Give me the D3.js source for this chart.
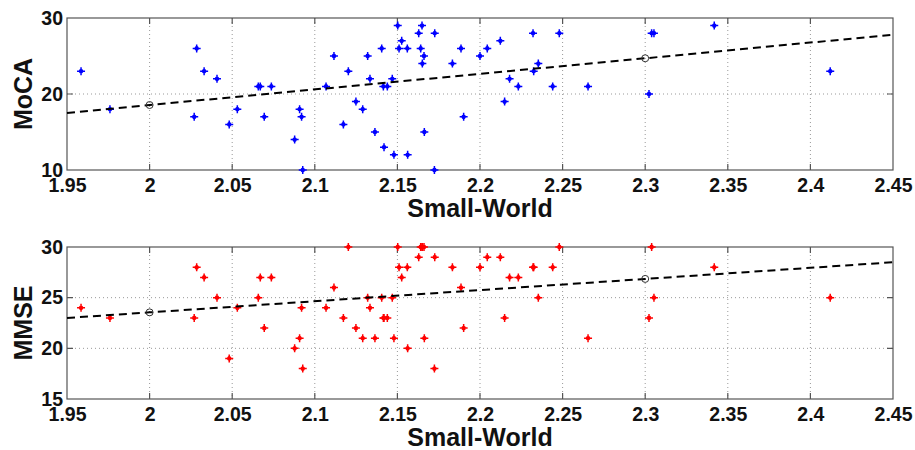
<!DOCTYPE html>
<html>
<head>
<meta charset="utf-8">
<script src="https://cdn.jsdelivr.net/npm/d3@7"></script>
<style>
  body { margin: 0; background: #fff; }
  svg text { font-family: "Liberation Sans", Arial, sans-serif; font-weight: bold; fill: #111; }
</style>
</head>
<body>
<div id="chart"></div>
<script>
// Data
const smallWorld = [1.9585, 1.976, 2.027, 2.0285, 2.033, 2.0408, 2.0482, 2.0531, 2.0658, 2.067,
    2.0694, 2.0737, 2.0878, 2.0908, 2.092, 2.0927, 2.1068, 2.1116, 2.1173, 2.1203,
    2.1249, 2.129, 2.132, 2.1334, 2.1364, 2.1405, 2.1415, 2.1419, 2.1439, 2.1469,
    2.1479, 2.1502, 2.151, 2.1526, 2.156, 2.1562, 2.1629, 2.1641, 2.1649, 2.1651,
    2.1661, 2.1663, 2.1724, 2.1726, 2.1833, 2.1885, 2.1901, 2.2, 2.2044, 2.2123,
    2.2149, 2.2179, 2.2232, 2.2321, 2.2325, 2.2353, 2.244, 2.248, 2.2654, 2.3023,
    2.3039, 2.3053, 2.3418, 2.412];
const moca = [23, 18, 17, 26, 23, 22, 16, 18, 21, 21,
    17, 21, 14, 18, 17, 10, 21, 25, 16, 23,
    19, 18, 25, 22, 15, 26, 21, 13, 21, 22,
    12, 29, 26, 27, 26, 12, 28, 26, 29, 24,
    25, 15, 10, 28, 24, 26, 17, 25, 26, 27,
    19, 22, 21, 28, 23, 24, 21, 28, 21, 20,
    28, 28, 29, 23];
const mmse = [24, 23, 23, 28, 27, 25, 19, 24, 25, 27,
    22, 27, 20, 21, 24, 18, 24, 26, 23, 30,
    22, 21, 25, 24, 21, 25, 23, 23, 23, 25,
    21, 30, 28, 27, 28, 20, 29, 30, 30, 30,
    30, 21, 18, 29, 28, 26, 22, 28, 29, 29,
    23, 27, 27, 28, 28, 25, 28, 30, 21, 23,
    30, 25, 28, 25];

// Linear fit, sampled at these x values (circles drawn at 2 and 2.3)
const fitX = [1.95, 2, 2.3, 2.45];
const mocaFit = [17.5, 18.55, 24.7, 27.8];
const mmseFit = [23.0, 23.55, 26.85, 28.5];
const fitMarks = [1, 2];

const xTicks = [1.95, 2, 2.05, 2.1, 2.15, 2.2, 2.25, 2.3, 2.35, 2.4, 2.45];
const mocaTicks = [10, 20, 30];
const mmseTicks = [15, 20, 25, 30];

const width = 915, height = 450;
const svg = d3.select('#chart').append('svg')
    .attr('width', width)
    .attr('height', height);

const x = d3.scaleLinear().domain([1.95, 2.45]).range([67, 893]);

const panels = [
    { label: 'MoCA', values: moca, fit: mocaFit, color: '#0000ff',
      domain: [10, 30], ticks: mocaTicks, top: 18, bottom: 170 },
    { label: 'MMSE', values: mmse, fit: mmseFit, color: '#ff0000',
      domain: [15, 30], ticks: mmseTicks, top: 247, bottom: 399 }
];

// asterisk marker: long plus arms, short diagonals
const star = 'M-4,0H4M0,-4V4M-1.6,-1.6L1.6,1.6M-1.6,1.6L1.6,-1.6';

panels.forEach(p => {
    const y = d3.scaleLinear().domain(p.domain).range([p.bottom, p.top]);
    const g = svg.append('g');

    // grid
    g.append('g')
        .selectAll('line')
        .data(xTicks.slice(1, -1))
        .join('line')
        .attr('x1', d => x(d)).attr('x2', d => x(d))
        .attr('y1', p.top).attr('y2', p.bottom)
        .attr('stroke', '#999').attr('stroke-dasharray', '1,3');
    g.append('g')
        .selectAll('line')
        .data(p.ticks.slice(1, -1))
        .join('line')
        .attr('x1', x.range()[0]).attr('x2', x.range()[1])
        .attr('y1', d => y(d)).attr('y2', d => y(d))
        .attr('stroke', '#999').attr('stroke-dasharray', '1,3');

    // axes (inward ticks on all sides)
    const bottomAxis = d3.axisBottom(x).tickValues(xTicks).tickSize(0).tickPadding(8)
        .tickFormat(d3.format('~g'));
    const gx = g.append('g')
        .attr('transform', `translate(0,${p.bottom})`)
        .call(bottomAxis);
    gx.select('.domain').remove();
    gx.selectAll('text').attr('font-size', 19.5).attr('dy', '0.74em');

    const leftAxis = d3.axisLeft(y).tickValues(p.ticks).tickSize(0).tickPadding(4);
    const gy = g.append('g')
        .attr('transform', `translate(${x.range()[0]},0)`)
        .call(leftAxis);
    gy.select('.domain').remove();
    gy.selectAll('text').attr('font-size', 19.5);

    const tickLen = 6;
    g.append('g').selectAll('path')
        .data(xTicks.slice(1, -1))
        .join('path')
        .attr('d', d => `M${x(d)},${p.bottom}v${-tickLen}M${x(d)},${p.top}v${tickLen}`)
        .attr('stroke', '#555').attr('stroke-width', 1.2);
    g.append('g').selectAll('path')
        .data(p.ticks.slice(1, -1))
        .join('path')
        .attr('d', d => `M${x.range()[0]},${y(d)}h${tickLen}M${x.range()[1]},${y(d)}h${-tickLen}`)
        .attr('stroke', '#555').attr('stroke-width', 1.2);

    g.append('rect')
        .attr('x', x.range()[0]).attr('y', p.top)
        .attr('width', x.range()[1] - x.range()[0])
        .attr('height', p.bottom - p.top)
        .attr('fill', 'none').attr('stroke', '#555').attr('stroke-width', 1.2);

    // points
    g.append('g')
        .selectAll('path')
        .data(smallWorld.map((v, i) => [v, p.values[i]]))
        .join('path')
        .attr('transform', d => `translate(${x(d[0])},${y(d[1])})`)
        .attr('d', star)
        .attr('stroke', p.color).attr('stroke-width', 1.5).attr('fill', 'none');

    // fit line
    const line = d3.line().x(d => x(d[0])).y(d => y(d[1]));
    g.append('path')
        .datum(fitX.map((v, i) => [v, p.fit[i]]))
        .attr('d', line)
        .attr('fill', 'none').attr('stroke', '#000')
        .attr('stroke-width', 2).attr('stroke-dasharray', '8,5');
    g.append('g')
        .selectAll('circle')
        .data(fitMarks)
        .join('circle')
        .attr('cx', i => x(fitX[i])).attr('cy', i => y(p.fit[i]))
        .attr('r', 3.5)
        .attr('fill', 'none').attr('stroke', '#333').attr('stroke-width', 1);

    // labels
    svg.append('text')
        .attr('x', (x.range()[0] + x.range()[1]) / 2)
        .attr('y', p.bottom + 47)
        .attr('text-anchor', 'middle')
        .attr('font-size', 25)
        .text('Small-World');
    svg.append('text')
        .attr('transform', `translate(32,${(p.top + p.bottom) / 2}) rotate(-90)`)
        .attr('text-anchor', 'middle')
        .attr('font-size', 25)
        .text(p.label);
});
</script>
</body>
</html>
